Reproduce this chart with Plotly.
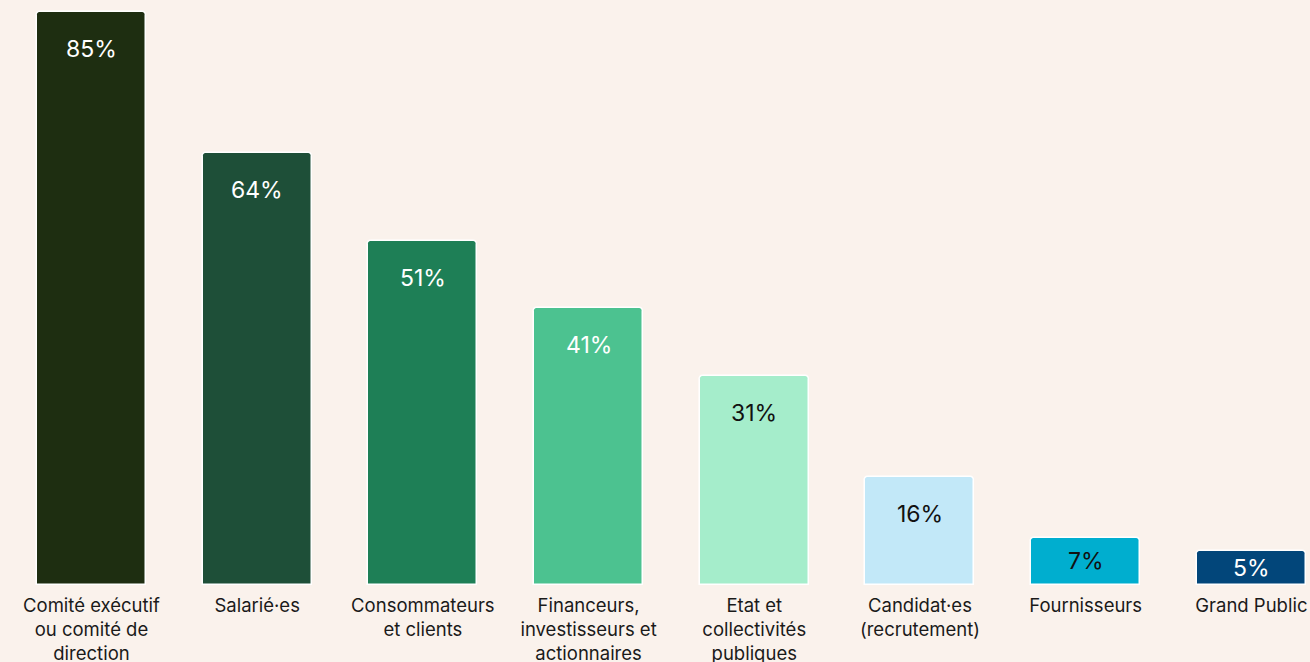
import plotly.graph_objects as go

categories = [
    "Comité exécutif<br>ou comité de<br>direction",
    "Salarié·es",
    "Consommateurs<br>et clients",
    "Financeurs,<br>investisseurs et<br>actionnaires",
    "Etat et<br>collectivités<br>publiques",
    "Candidat·es<br>(recrutement)",
    "Fournisseurs",
    "Grand Public",
]
values = [85, 64, 51, 41, 31, 16, 7, 5]
bar_colors = ["#1E2E11", "#1E4F38", "#1E7F56", "#4CC290",
              "#A5EDCB", "#C2E8F8", "#00AECF", "#02467A"]
label_colors = ["#FFFFFF", "#FFFFFF", "#FFFFFF", "#FFFFFF",
                "#111111", "#111111", "#111111", "#FFFFFF"]

FONT = "Inter"
x_pos = list(range(len(categories)))

fig = go.Figure(
    go.Bar(
        x=x_pos,
        y=values,
        width=0.658,
        marker=dict(color=bar_colors, line=dict(color="#FFFFFF", width=1.5),
                    cornerradius=4),
        hoverinfo="skip",
    )
)

# value labels: near the top of tall bars, centred in short ones
for xi, v, c in zip(x_pos, values, label_colors):
    if v > 10:
        ann = dict(y=v, yshift=-37)
    else:
        ann = dict(y=v / 2, yshift=0)
    fig.add_annotation(
        x=xi, text=f"{v}%", showarrow=False, yanchor="middle",
        font=dict(family=FONT, size=23, color=c), **ann,
    )

fig.update_layout(
    width=1310, height=662,
    margin=dict(l=0, r=0, t=0, b=77, autoexpand=False),
    paper_bgcolor="#FAF2EC",
    plot_bgcolor="#FAF2EC",
    showlegend=False,
    bargap=0,
    font=dict(family=FONT, size=18.5, color="#1A1A1A"),
)
fig.update_xaxes(
    range=[-0.552, 7.354],
    tickmode="array", tickvals=x_pos, ticktext=categories,
    showgrid=False, zeroline=False, showline=False, ticks="",
    ticklabelstandoff=7, automargin=False,
    tickfont=dict(family=FONT, size=18.5, color="#1A1A1A"),
    fixedrange=True,
)
fig.update_yaxes(
    range=[0, 86.72], visible=False, showgrid=False, zeroline=False,
    automargin=False, fixedrange=True,
)

fig.write_html("out.html", config={"displayModeBar": False})
